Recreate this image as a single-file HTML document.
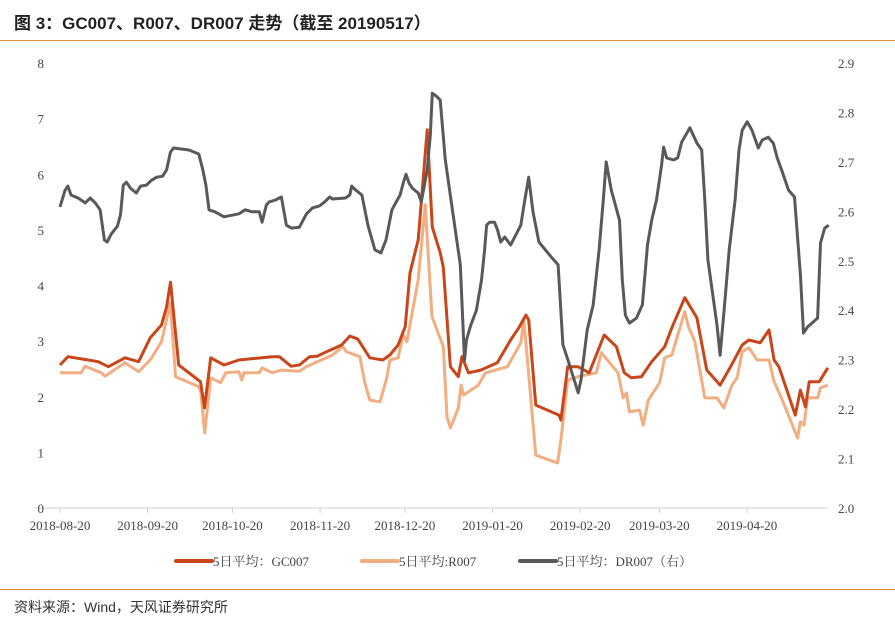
<!DOCTYPE html>
<html><head><meta charset="utf-8">
<style>
body{margin:0;background:#fff;width:895px;height:626px;overflow:hidden;font-family:"Liberation Serif","Noto Serif CJK SC",serif;}
#title{position:absolute;left:14px;top:9px;font:bold 17px "Liberation Sans","Noto Sans CJK SC",sans-serif;color:#222;}
.rule{position:absolute;left:0;width:895px;height:1px;background:#e08a3c;}
#src{position:absolute;left:14px;top:597px;font:14px "Liberation Sans","Noto Sans CJK SC",sans-serif;color:#333;}
</style></head><body>
<div id="title">图 3：GC007、R007、DR007 走势（截至 20190517）</div>
<div class="rule" style="top:40px"></div>
<svg id="chart" width="895" height="626" style="position:absolute;left:0;top:0"></svg>
<div class="rule" style="top:589px"></div>
<div id="src">资料来源：Wind，天风证券研究所</div>
<script>
const xTickLabels=["2018-08-20","2018-09-20","2018-10-20","2018-11-20","2018-12-20","2019-01-20","2019-02-20","2019-03-20","2019-04-20"];
const xTickDays=[0,31,61,92,122,153,184,212,243];
const leftTicks=[0,1,2,3,4,5,6,7,8];
const rightTicks=["2.0","2.1","2.2","2.3","2.4","2.5","2.6","2.7","2.8","2.9"];
const drDays=[0,1.8,2.8,3.9,6.4,8.9,10.7,12.5,14.2,15.7,16.7,18.1,20.3,21.4,22.4,23.5,24.9,27,28.5,30.6,32.4,34.2,36.3,37.7,39.1,40.2,45.6,49.1,50.5,51.6,52.7,54.8,58,63.3,65.5,68,70.5,71.5,73,74,76.2,78.3,80.1,81.9,84.7,87.2,89.3,91.8,93.6,95.4,96.4,101,102.5,103.2,104.6,106.8,108.9,111.4,113.5,115.3,117.4,120.3,121.4,122.4,123.5,124.6,126.7,127.8,129.9,131,131.7,133.1,134.5,136.3,138.8,141.6,143.1,143.8,145.2,147.3,149.1,150.2,150.9,152,153.7,154.8,155.9,157.3,159.4,163,164.4,165.8,167.3,169.4,174,176.2,177.9,179.7,183.3,184.3,186.5,188.6,190.7,192.2,193.2,195,197.9,198.9,200,201.4,203.9,206,207.8,209.3,211,212.8,213.5,214.6,217.1,218.5,219.9,222.8,225.3,227,228.1,229.2,232.4,233.5,234.9,236.7,238.8,240.2,241.3,243.1,244.8,247,248.4,250.5,252.3,253.7,255.5,257.7,259.8,261.9,263,264.4,268,269,270.5,271.9];
const drValues=[2.609,2.643,2.651,2.633,2.627,2.617,2.627,2.617,2.603,2.542,2.538,2.554,2.570,2.593,2.653,2.659,2.647,2.637,2.651,2.653,2.663,2.669,2.671,2.684,2.720,2.728,2.724,2.716,2.684,2.653,2.603,2.599,2.589,2.595,2.603,2.599,2.599,2.578,2.613,2.619,2.623,2.629,2.572,2.566,2.568,2.595,2.607,2.611,2.619,2.629,2.625,2.627,2.633,2.651,2.643,2.633,2.572,2.522,2.516,2.542,2.603,2.633,2.657,2.675,2.657,2.647,2.637,2.619,2.684,2.754,2.839,2.833,2.825,2.704,2.603,2.492,2.299,2.340,2.368,2.400,2.461,2.522,2.572,2.578,2.578,2.562,2.538,2.548,2.532,2.572,2.623,2.669,2.599,2.538,2.506,2.492,2.330,2.299,2.233,2.259,2.360,2.411,2.522,2.623,2.700,2.643,2.582,2.461,2.390,2.374,2.384,2.411,2.532,2.582,2.623,2.694,2.730,2.708,2.704,2.708,2.740,2.769,2.738,2.724,2.623,2.502,2.370,2.309,2.400,2.522,2.623,2.724,2.764,2.781,2.764,2.728,2.744,2.750,2.738,2.708,2.680,2.643,2.629,2.472,2.354,2.366,2.384,2.536,2.566,2.572];
const gcDays=[0,2.8,10,13.5,17.1,23,27.8,31.9,35.9,37.7,39.1,42,49.7,51.1,53.3,58,63.3,75.1,77.6,81.7,84.7,88.3,91.1,94.3,99.6,102.5,105.3,109.6,114.2,116.7,119.6,122.1,123.8,126.7,129.9,131.7,134.5,135.6,138.1,140.9,142.2,144.5,148.8,154.7,159.4,162.3,164.8,165.8,168.3,176.5,177.2,179.6,183.2,187.2,192.5,196.8,199.6,202.1,205.7,209.3,213.9,216.4,221,225.3,228.8,233.5,237,241.3,243.7,247.7,250.8,252.6,254.3,260.1,261.9,263.7,265,268.6,271.6];
const gcValues=[2.57,2.72,2.66,2.63,2.54,2.70,2.63,3.06,3.29,3.62,4.06,2.57,2.27,1.80,2.70,2.57,2.66,2.72,2.72,2.55,2.57,2.72,2.73,2.81,2.93,3.09,3.04,2.70,2.66,2.75,2.93,3.26,4.23,4.82,6.80,5.05,4.59,4.33,2.54,2.36,2.72,2.43,2.48,2.61,3.02,3.24,3.47,3.38,1.85,1.67,1.58,2.54,2.54,2.43,3.11,2.90,2.43,2.34,2.36,2.63,2.90,3.24,3.78,3.42,2.48,2.21,2.52,2.93,3.02,2.97,3.20,2.66,2.54,1.67,2.12,1.82,2.27,2.27,2.52];
const rDays=[0,7.5,8.8,14.6,15.9,23,27.8,31.9,35.9,39,40.9,49.1,49.8,51.2,53.3,56.8,58.6,63.3,64.3,65.1,70.5,71.5,75.1,78.2,84.7,87.1,96.4,100,101.3,106.1,107.8,109.6,113.2,115.6,116.7,119.6,121.4,122.7,126.7,129.2,131.6,135.6,136.9,138.1,140.9,141.9,142.7,144.5,148,150.5,158.3,163,164.1,168.3,176,177.2,179.6,183.2,189.7,191.5,197.4,199.2,200.4,201.4,205,206.3,208.1,212.1,213.9,216.4,221,222.3,224.6,228.1,232.4,234.8,237.7,239.5,241.3,243.7,246.6,250.8,252.6,255.5,260.9,261.9,263.2,264.4,268,269,271.6];
const rValues=[2.43,2.43,2.55,2.43,2.37,2.61,2.45,2.66,2.99,3.69,2.36,2.18,2.09,1.35,2.34,2.25,2.43,2.45,2.30,2.43,2.43,2.52,2.43,2.48,2.46,2.54,2.75,2.90,2.81,2.72,2.25,1.94,1.91,2.34,2.66,2.70,3.11,2.99,4.10,5.45,3.44,2.90,1.64,1.44,1.80,2.21,2.03,2.09,2.21,2.43,2.54,2.97,3.38,0.95,0.81,1.22,2.30,2.36,2.43,2.79,2.43,1.98,2.07,1.73,1.76,1.49,1.94,2.25,2.70,2.75,3.53,3.26,2.99,1.98,1.98,1.80,2.21,2.34,2.81,2.88,2.66,2.66,2.27,1.94,1.26,1.55,1.49,1.98,1.98,2.16,2.21];

const svg=document.getElementById('chart');const NS='http://www.w3.org/2000/svg';
const X0=60,PX=2.827,YB=508,YT=63;
const xs=d=>X0+d*PX;
const yl=v=>YB-v/8*(YB-YT);
const yr=v=>YB-(v-2)/0.9*(YB-YT);
function mk(t,a){const e=document.createElementNS(NS,t);for(const k in a)e.setAttribute(k,a[k]);svg.appendChild(e);return e;}
let ax=mk('line',{x1:35,x2:828,y1:YB,y2:YB,stroke:'#d0d0d0','stroke-width':1});

xTickDays.forEach((d,i)=>{
 let t=mk('line',{x1:xs(d),x2:xs(d),y1:YB,y2:YB+5,stroke:'#d0d0d0'});
 
 let l=mk('text',{x:xs(d),y:530,'text-anchor':'middle','font-size':13,fill:'#444'});l.textContent=xTickLabels[i];
 
});
leftTicks.forEach(v=>{let l=mk('text',{x:44,y:yl(v)+5,'text-anchor':'end','font-size':13,fill:'#444'});l.textContent=v;
 });
rightTicks.forEach(v=>{let l=mk('text',{x:838,y:yr(+v)+5,'font-size':13,fill:'#444'});l.textContent=v;
 });
function line(days,vals,f,col,name){
 const p=days.map((d,i)=>xs(d).toFixed(1)+','+f(vals[i]).toFixed(1)).join(' ');
 let e=mk('polyline',{points:p,fill:'none',stroke:col,'stroke-width':3,'stroke-linejoin':'round'});
 
}
line(rDays,rValues,yl,'#f2ad80','r007-line');
line(gcDays,gcValues,yl,'#c8461a','gc007-line');
line(drDays,drValues,yr,'#595959','dr007-line');
const legend=[["5日平均：GC007",'#c8461a',176],["5日平均:R007",'#f2ad80',362],["5日平均：DR007（右）",'#595959',520]];
legend.forEach(([t,c,x])=>{
 let g=mk('line',{x1:x,x2:x+36,y1:561,y2:561,stroke:c,'stroke-width':4,'stroke-linecap':'round'});
 
 let l=mk('text',{x:x+37,y:566,'font-size':13,fill:'#444'});l.textContent=t;
 
});
</script>
</body></html>
